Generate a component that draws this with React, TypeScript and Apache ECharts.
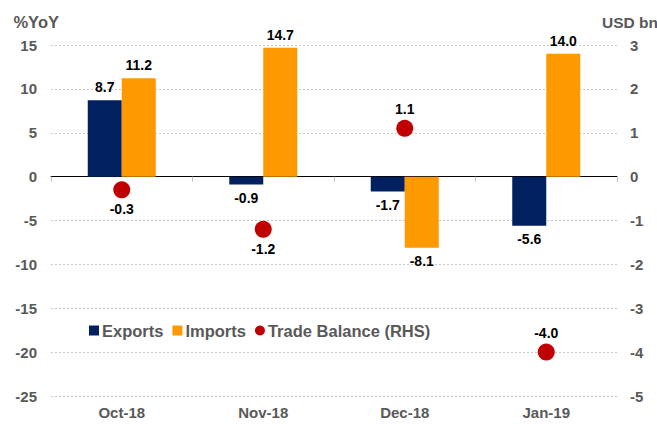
import React, { useEffect, useRef } from "react";
import * as echarts from "echarts";

const categories = ["Oct-18", "Nov-18", "Dec-18", "Jan-19"];
const exportsYoY = [8.7, -0.9, -1.7, -5.6];
const importsYoY = [11.2, 14.7, -8.1, 14.0];
const tradeBalance = [-0.3, -1.2, 1.1, -4.0];
const balanceLabelPos = ["bottom", "bottom", "top", "top"];

const FONT = "Liberation Sans, Arial, sans-serif";
const GRAY = "#595959";

export default function App() {
  const ref = useRef<HTMLDivElement>(null);
  useEffect(() => {
    const chart = echarts.init(ref.current!, null, { renderer: "svg" });
    const valLabel = {
      show: true,
      distance: 6,
      color: "#000",
      fontWeight: "bold",
      fontSize: 14,
      fontFamily: FONT,
      formatter: (p: any) => Number(p.value).toFixed(1),
    };
    const axisText = { color: GRAY, fontWeight: "bold", fontSize: 15, fontFamily: FONT };
    chart.setOption({
      animation: false,
      textStyle: { fontFamily: FONT },
      grid: { left: 51, right: 40, top: 45, bottom: 28, outerBoundsMode: "none", containLabel: false },
      legend: {
        left: 84,
        top: 317,
        itemWidth: 10,
        itemHeight: 10,
        itemGap: 9,
        textStyle: { color: GRAY, fontWeight: "bold", fontSize: 16.5, fontFamily: FONT, padding: [0, 0, 0, -2] },
        data: [
          { name: "Exports", icon: "rect" },
          { name: "Imports", icon: "rect" },
          { name: "Trade Balance (RHS)", icon: "circle", itemStyle: { opacity: 1 } },
        ],
      },
      xAxis: [
        {
          type: "category",
          data: categories,
          axisLine: { onZero: true, lineStyle: { color: "#000", width: 1 } },
          axisTick: { show: true, length: 5, lineStyle: { color: "#bfbfbf" } },
          axisLabel: { show: false },
        },
        {
          type: "category",
          data: categories,
          position: "bottom",
          axisLine: { show: false },
          axisTick: { show: false },
          axisLabel: { ...axisText, margin: 9 },
        },
      ],
      yAxis: [
        {
          type: "value",
          min: -25,
          max: 15,
          interval: 5,
          name: "%YoY",
          nameLocation: "end",
          nameGap: 15,
          nameTextStyle: { color: GRAY, fontWeight: "bold", fontSize: 16.5, fontFamily: FONT, align: "right", padding: [0, -8, 0, 0] },
          axisLine: { show: false },
          axisTick: { show: false },
          axisLabel: { ...axisText, margin: 14 },
          splitLine: { lineStyle: { color: "#c8c8c8", type: [2, 2] } },
        },
        {
          type: "value",
          min: -5,
          max: 3,
          interval: 1,
          name: "USD bn",
          nameLocation: "end",
          nameGap: 15,
          nameTextStyle: { color: GRAY, fontWeight: "bold", fontSize: 15.5, fontFamily: FONT, align: "left", padding: [0, 0, 0, -15] },
          axisLine: { show: false },
          axisTick: { show: false },
          axisLabel: { ...axisText, margin: 13 },
          splitLine: { show: false },
        },
      ],
      series: [
        {
          name: "Exports",
          type: "bar",
          data: exportsYoY.map((v) => ({ value: v, label: { position: v >= 0 ? "top" : "bottom" } })),
          barWidth: 34,
          barGap: "0%",
          itemStyle: { color: "#002060" },
          label: valLabel,
          xAxisIndex: 0,
          yAxisIndex: 0,
        },
        {
          name: "Imports",
          type: "bar",
          data: importsYoY.map((v) => ({ value: v, label: { position: v >= 0 ? "top" : "bottom" } })),
          barWidth: 34,
          barGap: "0%",
          itemStyle: { color: "#FF9900" },
          label: valLabel,
          xAxisIndex: 0,
          yAxisIndex: 0,
        },
        {
          name: "Trade Balance (RHS)",
          type: "scatter",
          data: tradeBalance.map((v, i) => ({
            value: v,
            label: { position: balanceLabelPos[i] },
          })),
          symbolSize: 17,
          itemStyle: { color: "#C00000", opacity: 1 },
          label: { ...valLabel, distance: 4 },
          xAxisIndex: 0,
          yAxisIndex: 1,
          z: 5,
        },
      ],
    });
    return () => chart.dispose();
  }, []);
  return <div ref={ref} style={{ position: "absolute", left: 0, top: 0, width: 657, height: 424 }} />;
}
